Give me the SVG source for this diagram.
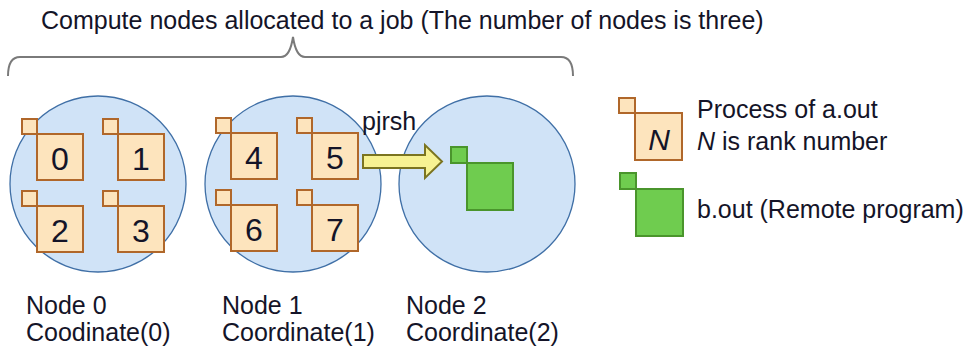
<svg xmlns="http://www.w3.org/2000/svg" width="964" height="352" viewBox="0 0 964 352">
<style>
text{font-family:"Liberation Sans",Arial,sans-serif;fill:#141428;}
.t{font-size:25px;}
.num{font-size:32px;text-anchor:middle;}
.circ{fill:#d0e3f7;stroke:#3f6fa6;stroke-width:1.3;}
.ps{fill:#fde4bd;stroke:#b0672a;stroke-width:2;}
.gs{fill:#6fcc4f;stroke:#4a952c;stroke-width:2;}
.brace{fill:none;stroke:#7a7a7a;stroke-width:2;}
</style>
<rect width="964" height="352" fill="#ffffff"/>
<g id="title">
<text class="t" x="41" y="29">Compute nodes allocated to a job (The number of nodes is three)</text>
<path class="brace" d="M8 76 Q8 57 20 57 L281 57 Q290 57 293 37 Q296 57 305 57 L561 57 Q573 57 573 76"/>
</g>
<g id="node0">
<circle class="circ" cx="98" cy="184" r="88"/>
<g id="p0"><rect class="ps" x="22" y="119" width="15" height="15"/><rect class="ps" x="37" y="134" width="46" height="46"/><text class="num" x="60" y="170">0</text></g>
<g id="p1"><rect class="ps" x="103" y="119" width="15" height="15"/><rect class="ps" x="118" y="134" width="46" height="46"/><text class="num" x="141" y="170">1</text></g>
<g id="p2"><rect class="ps" x="22" y="191" width="15" height="15"/><rect class="ps" x="37" y="206" width="46" height="46"/><text class="num" x="60" y="242">2</text></g>
<g id="p3"><rect class="ps" x="103" y="191" width="15" height="15"/><rect class="ps" x="118" y="206" width="46" height="46"/><text class="num" x="141" y="242">3</text></g>
<text class="t" x="26" y="314">Node 0</text>
<text class="t" x="26" y="341">Coodinate(0)</text>
</g>
<g id="node1">
<circle class="circ" cx="293" cy="184" r="88"/>
<g id="p4"><rect class="ps" x="216" y="118" width="15" height="15"/><rect class="ps" x="231" y="133" width="46" height="46"/><text class="num" x="254" y="169">4</text></g>
<g id="p5"><rect class="ps" x="297" y="118" width="15" height="15"/><rect class="ps" x="312" y="133" width="46" height="46"/><text class="num" x="335" y="169">5</text></g>
<g id="p6"><rect class="ps" x="216" y="190" width="15" height="15"/><rect class="ps" x="231" y="205" width="46" height="46"/><text class="num" x="254" y="241">6</text></g>
<g id="p7"><rect class="ps" x="297" y="190" width="15" height="15"/><rect class="ps" x="312" y="205" width="46" height="46"/><text class="num" x="335" y="241">7</text></g>
<text class="t" x="222" y="314">Node 1</text>
<text class="t" x="222" y="341">Coordinate(1)</text>
</g>
<g id="node2">
<circle class="circ" cx="487" cy="184" r="88"/>
<g id="bout"><rect class="gs" x="451" y="147" width="16" height="16"/><rect class="gs" x="467" y="163" width="46" height="47"/></g>
<text class="t" x="406" y="314">Node 2</text>
<text class="t" x="406" y="341">Coordinate(2)</text>
</g>
<g id="connectors">
<path d="M363 155 L425 155 L425 145 L442 161.5 L425 178 L425 168 L363 168 Z" fill="#f7f293" stroke="#7b7420" stroke-width="2" stroke-linejoin="miter"/>
<text class="t" x="362" y="130">pjrsh</text>
</g>
<g id="legend">
<g id="legend-process"><rect class="ps" x="619" y="98" width="16" height="15"/><rect class="ps" x="635" y="113" width="47" height="47"/><text x="659" y="150" style="font-size:30px;font-style:italic;text-anchor:middle">N</text></g>
<text class="t" x="697" y="118">Process of a.out</text>
<text class="t" x="697" y="150"><tspan font-style="italic">N</tspan> is rank number</text>
<g id="legend-bout"><rect class="gs" x="620" y="173" width="16" height="16"/><rect class="gs" x="636" y="189" width="47" height="47"/></g>
<text class="t" x="697" y="218">b.out (Remote program)</text>
</g>
</svg>
